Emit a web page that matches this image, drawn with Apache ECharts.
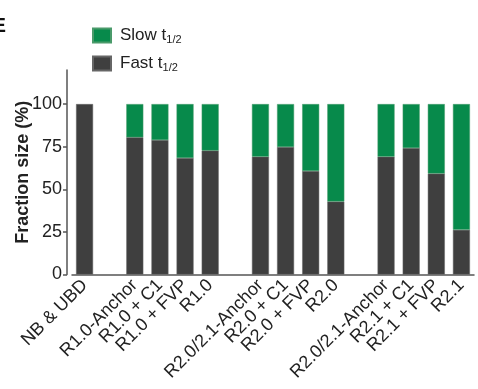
<!DOCTYPE html>
<html><head><meta charset="utf-8">
<script src="https://cdn.jsdelivr.net/npm/echarts@6/dist/echarts.min.js"></script>
<style>html,body{margin:0;padding:0;background:#fff}#c{width:478px;height:389px}</style>
</head><body><div id="c"></div>
<script>
const categories = ['NB & UBD', '', 'R1.0-Anchor', 'R1.0 + C1', 'R1.0 + FVP', 'R1.0', ' ', 'R2.0/2.1-Anchor', 'R2.0 + C1', 'R2.0 + FVP', 'R2.0', '  ', 'R2.0/2.1-Anchor ', 'R2.1 + C1', 'R2.1 + FVP', 'R2.1'];
const fastValues = [100, null, 80.5, 78.9, 68.4, 72.7, null, 69.1, 74.8, 60.7, 42.8, null, 69.1, 74.2, 59.2, 26.2];
const slowValues = [null, null, 19.5, 21.1, 31.6, 27.3, null, 30.9, 25.2, 39.3, 57.2, null, 30.9, 25.8, 40.8, 73.8];
const yTicks = [0, 25, 50, 75, 100];

const FONT = 'Liberation Sans';
const chart = echarts.init(document.getElementById('c'), null, {renderer: 'canvas'});
chart.setOption({
  animation: false,
  title: {text: 'E', left: -13, top: 11, textStyle: {fontFamily: FONT, fontWeight: 'bold', fontSize: 21, color: '#111'}},
  legend: {
    orient: 'vertical', left: 87, top: 22, itemWidth: 18, itemHeight: 14, itemGap: 10,
    icon: 'rect',
    data: ['Slow', 'Fast'],
    formatter: function (n) { return n + ' t{sub|1/2}'; },
    textStyle: {fontFamily: FONT, fontSize: 17, color: '#222', padding: [0, 0, 0, 4],
      rich: {sub: {fontFamily: FONT, fontSize: 11, color: '#222', verticalAlign: 'bottom', padding: [8, 0, 0, 0]}}}
  },
  grid: {left: 72, right: 4, top: 70, bottom: 114.5, containLabel: false},
  xAxis: {
    type: 'category', data: categories,
    axisLine: {lineStyle: {color: '#555', width: 1.5}},
    axisTick: {alignWithLabel: true, length: 5, lineStyle: {color: '#555', width: 1.5}},
    axisLabel: {interval: 0, rotate: 45, margin: 8, fontFamily: FONT, fontSize: 18, color: '#222',
      formatter: function (v) { return v.trim(); }}
  },
  yAxis: {
    type: 'value', min: 0, max: 120, interval: 25, offset: 5,
    name: 'Fraction size (%)', nameLocation: 'middle', nameGap: 35, nameMoveOverlap: false,
    nameTextStyle: {fontFamily: FONT, fontSize: 18, fontWeight: 'bold', color: '#222'},
    axisLine: {show: true, lineStyle: {color: '#555', width: 1.5}},
    axisTick: {show: true, length: 4, customValues: yTicks, lineStyle: {color: '#555', width: 1.5}},
    axisLabel: {margin: 5, customValues: yTicks, fontFamily: FONT, fontSize: 18, color: '#222'},
    splitLine: {show: false}
  },
  series: [
    {name: 'Fast', type: 'bar', stack: 'a', data: fastValues, barWidth: 17,
      itemStyle: {color: '#3f3f3f', borderColor: '#666', borderWidth: 0.5}},
    {name: 'Slow', type: 'bar', stack: 'a', data: slowValues, barWidth: 17,
      itemStyle: {color: '#078a4b', borderColor: '#4a9a6a', borderWidth: 0.5}}
  ]
});
</script></body></html>
